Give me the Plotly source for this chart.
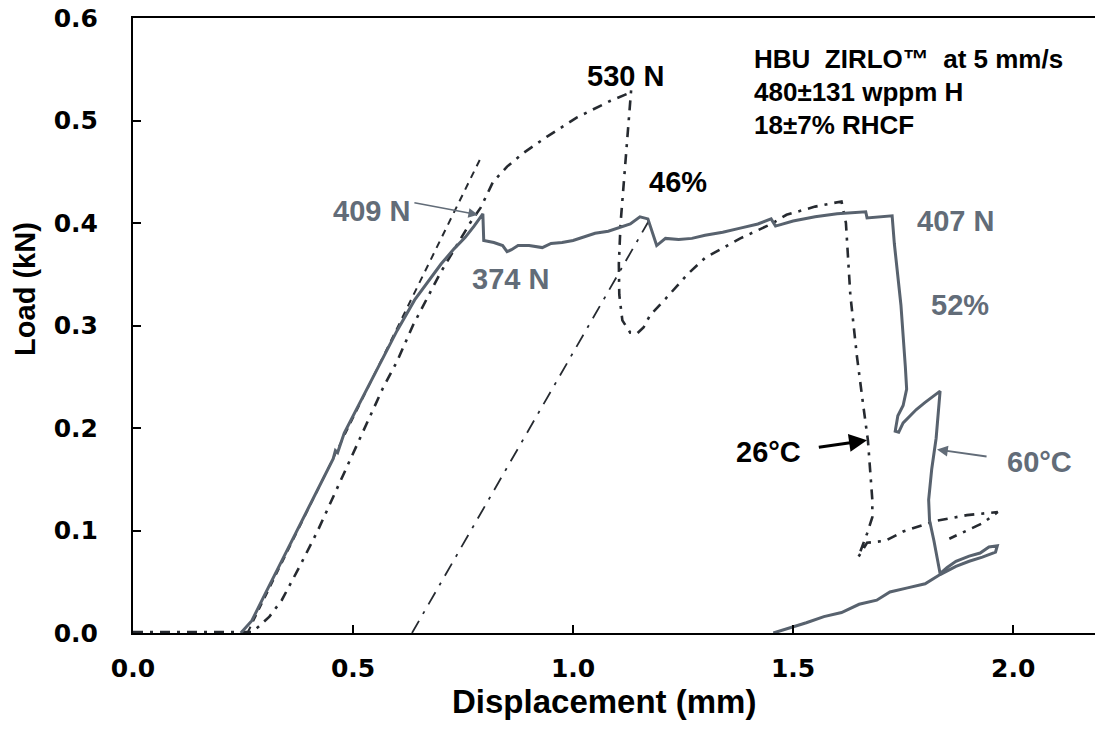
import plotly.graph_objects as go

# Load-displacement records (displacement in mm, load in kN)
disp_60C = [0.245, 0.27, 0.30, 0.34, 0.38, 0.42, 0.455, 0.46, 0.465, 0.48, 0.52, 0.57, 0.60, 0.64,
            0.67, 0.70, 0.73, 0.755, 0.775, 0.795, 0.797, 0.82, 0.84, 0.85, 0.86, 0.875, 0.90,
            0.93, 0.95, 0.975, 1.00, 1.03, 1.05, 1.08, 1.10, 1.13, 1.152, 1.17, 1.19, 1.21, 1.24,
            1.27, 1.30, 1.34, 1.38, 1.42, 1.45, 1.46, 1.50, 1.55, 1.60, 1.64, 1.665, 1.668, 1.69,
            1.725, 1.73, 1.745, 1.755, 1.758, 1.75, 1.738, 1.732, 1.74, 1.75, 1.765, 1.78, 1.80,
            1.815, 1.834, 1.825, 1.815, 1.808, 1.81, 1.82, 1.834, 1.85, 1.87, 1.90, 1.925, 1.945,
            1.964, 1.96, 1.93, 1.90, 1.87, 1.834, 1.80, 1.76, 1.72, 1.69, 1.65, 1.61, 1.57, 1.53,
            1.49, 1.455]
load_60C = [0.000, 0.012, 0.038, 0.072, 0.106, 0.141, 0.170, 0.178, 0.176, 0.195, 0.228, 0.270,
            0.295, 0.325, 0.343, 0.360, 0.375, 0.386, 0.397, 0.409, 0.383, 0.381, 0.378, 0.372,
            0.374, 0.378, 0.378, 0.376, 0.380, 0.381, 0.383, 0.387, 0.390, 0.392, 0.395, 0.399,
            0.406, 0.404, 0.378, 0.385, 0.384, 0.385, 0.388, 0.391, 0.395, 0.399, 0.404, 0.397,
            0.402, 0.406, 0.409, 0.410, 0.411, 0.405, 0.406, 0.407, 0.380, 0.320, 0.260, 0.238,
            0.222, 0.212, 0.197, 0.196, 0.205, 0.212, 0.218, 0.225, 0.230, 0.236, 0.190, 0.160,
            0.130, 0.110, 0.090, 0.058, 0.064, 0.070, 0.075, 0.078, 0.084, 0.085, 0.079, 0.074,
            0.070, 0.065, 0.057, 0.048, 0.044, 0.040, 0.032, 0.028, 0.020, 0.016, 0.010, 0.005,
            0.000]

disp_26C = [0.00, 0.27, 0.285, 0.31, 0.338, 0.38, 0.42, 0.47, 0.53, 0.568, 0.60, 0.636, 0.698,
            0.766, 0.79, 0.818, 0.85, 0.886, 0.94, 1.009, 1.084, 1.123, 1.132, 1.125, 1.115,
            1.108, 1.104, 1.105, 1.112, 1.13, 1.145, 1.16, 1.175, 1.21, 1.26, 1.30, 1.38, 1.45,
            1.485, 1.55, 1.61, 1.62, 1.63, 1.645, 1.66, 1.67, 1.68, 1.68, 1.668, 1.648, 1.668,
            1.71, 1.75, 1.82, 1.895, 1.965, 1.93, 1.855]
load_26C = [0.001, 0.001, 0.006, 0.016, 0.032, 0.066, 0.100, 0.147, 0.203, 0.239, 0.265, 0.300,
            0.351, 0.400, 0.415, 0.440, 0.455, 0.468, 0.484, 0.503, 0.519, 0.526, 0.530, 0.490,
            0.440, 0.400, 0.360, 0.330, 0.305, 0.293, 0.292, 0.298, 0.310, 0.326, 0.350, 0.366,
            0.385, 0.399, 0.408, 0.416, 0.421, 0.400, 0.330, 0.270, 0.220, 0.188, 0.130, 0.113,
            0.097, 0.074, 0.088, 0.090, 0.099, 0.109, 0.115, 0.118, 0.107, 0.092]

# Elastic loading line and elastic unloading (offset) line
elastic_disp = [0.26, 0.793]
elastic_load = [0.0, 0.466]
offset_disp = [0.634, 1.172]
offset_load = [0.0, 0.402]

# Axis ticks
x_ticks = [0.0, 0.5, 1.0, 1.5, 2.0]
y_ticks = [0.0, 0.1, 0.2, 0.3, 0.4, 0.5, 0.6]

GREY = "rgb(88,98,110)"
LABEL_GREY = "rgb(98,108,120)"
DARK = "rgb(38,42,48)"
ARIAL = "Liberation Sans, Arial, sans-serif"

fig = go.Figure()
fig.add_trace(go.Scatter(x=elastic_disp, y=elastic_load, mode="lines",
                         line=dict(color=DARK, width=2, dash="7px,6px")))
fig.add_trace(go.Scatter(x=offset_disp, y=offset_load, mode="lines",
                         line=dict(color=DARK, width=1.8, dash="14px,8px,3px,8px")))
fig.add_trace(go.Scatter(x=disp_26C, y=load_26C, mode="lines",
                         line=dict(color=DARK, width=2.6, dash="10px,7px,3px,7px")))
fig.add_trace(go.Scatter(x=disp_60C, y=load_60C, mode="lines",
                         line=dict(color=GREY, width=3)))


def label(text, x, y, color, size=29):
    fig.add_annotation(x=x, y=y, xref="x", yref="y", text=text, showarrow=False,
                       font=dict(family=ARIAL, size=size, color=color, weight="bold"))


def arrow(x0, y0, x1, y1, color, width):
    fig.add_annotation(x=x1, y=y1, ax=x0, ay=y0, xref="x", yref="y", axref="x", ayref="y",
                       text="", showarrow=True, arrowhead=2, arrowsize=1.2,
                       arrowwidth=width, arrowcolor=color)


label("530 N", 1.118, 0.543, "black")
label("46%", 1.239, 0.440, "black")
label("409 N", 0.541, 0.412, LABEL_GREY)
label("374 N", 0.857, 0.345, LABEL_GREY)
label("407 N", 1.870, 0.402, LABEL_GREY)
label("52%", 1.880, 0.320, LABEL_GREY)
label("26°C", 1.445, 0.177, "black")
label("60°C", 2.059, 0.167, LABEL_GREY)

arrow(0.636, 0.420, 0.784, 0.408, LABEL_GREY, 1.6)
arrow(1.555, 0.181, 1.668, 0.188, "black", 3)
arrow(1.943, 0.172, 1.827, 0.179, LABEL_GREY, 1.8)

info_lines = ["HBU  ZIRLO™  at 5 mm/s", "480±131 wppm H", "18±7% RHCF"]
for i, line in enumerate(info_lines):
    fig.add_annotation(x=1.407, y=0.560 - i * 0.032, xref="x", yref="y", text=line,
                       showarrow=False, xanchor="left", yanchor="middle",
                       font=dict(family=ARIAL, size=26, color="black", weight="bold"))

# Axis titles
fig.add_annotation(xref="paper", yref="paper", x=-0.113, y=0.56, text="Load (kN)",
                   showarrow=False, textangle=-90, xanchor="center", yanchor="middle",
                   font=dict(family=ARIAL, size=29, color="black", weight="bold"))
fig.add_annotation(xref="paper", yref="paper", x=0.49, y=-0.112, text="Displacement (mm)",
                   showarrow=False, xanchor="center", yanchor="middle",
                   font=dict(family=ARIAL, size=33, color="black", weight="bold"))

tick_font = dict(family="DejaVu Sans", size=25, color="black", weight="bold")
fig.update_xaxes(range=[0, 2.186], tickvals=x_ticks, tickformat=".1f", ticks="inside",
                 ticklen=8, tickwidth=1.5, tickcolor="black", showline=True, linewidth=2,
                 linecolor="black", mirror=True, showgrid=False, zeroline=False,
                 tickfont=tick_font, ticklabelstandoff=12)
fig.update_yaxes(range=[0, 0.6], tickvals=y_ticks, tickformat=".1f", ticks="inside",
                 ticklen=8, tickwidth=1.5, tickcolor="black", showline=True, linewidth=2,
                 linecolor="black", showgrid=False, zeroline=False, tickfont=tick_font,
                 ticklabelstandoff=28)
fig.update_layout(width=1095, height=744, margin=dict(l=133, r=0, t=18, b=111),
                  plot_bgcolor="white", paper_bgcolor="white", showlegend=False)

fig.write_html("out.html")
